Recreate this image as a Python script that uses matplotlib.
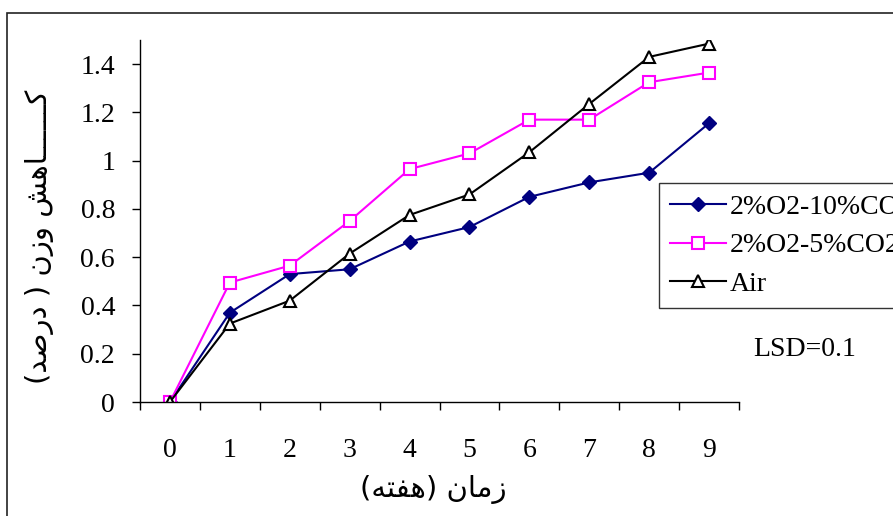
import matplotlib
matplotlib.use('Agg')
import matplotlib.pyplot as plt
from matplotlib.patches import Rectangle

weeks = [0, 1, 2, 3, 4, 5, 6, 7, 8, 9]
o2_10co2 = [0.0, 0.37, 0.53, 0.55, 0.665, 0.725, 0.85, 0.91, 0.95, 1.155]
o2_5co2 = [0.0, 0.495, 0.565, 0.75, 0.965, 1.03, 1.17, 1.17, 1.325, 1.365]
air = [0.0, 0.325, 0.42, 0.615, 0.775, 0.86, 1.035, 1.235, 1.43, 1.485]
series_names = ['2%O2-10%CO2', '2%O2-5%CO2', 'Air']
y_ticks = [0, 0.2, 0.4, 0.6, 0.8, 1.0, 1.2, 1.4]
y_ticklabels = ['0', '0.2', '0.4', '0.6', '0.8', '1', '1.2', '1.4']
x_label = 'زمان (هفته)'
y_label = 'کــــــاهش وزن ( درصد)'
lsd_text = 'LSD=0.1'

# contextual forms: isolated, final, initial, medial
FORMS = {
    'ک': ('\uFB8E', '\uFB8F', '\uFB90', '\uFB91'),
    'ه': ('\uFEE9', '\uFEEA', '\uFEEB', '\uFEEC'),
    'ش': ('\uFEB5', '\uFEB6', '\uFEB7', '\uFEB8'),
    'ن': ('\uFEE5', '\uFEE6', '\uFEE7', '\uFEE8'),
    'ص': ('\uFEB9', '\uFEBA', '\uFEBB', '\uFEBC'),
    'م': ('\uFEE1', '\uFEE2', '\uFEE3', '\uFEE4'),
    'ف': ('\uFED1', '\uFED2', '\uFED3', '\uFED4'),
    'ت': ('\uFE95', '\uFE96', '\uFE97', '\uFE98'),
    'ا': ('\uFE8D', '\uFE8E'),
    'و': ('\uFEED', '\uFEEE'),
    'ز': ('\uFEAF', '\uFEB0'),
    'د': ('\uFEA9', '\uFEAA'),
    'ر': ('\uFEAD', '\uFEAE'),
}
TATWEEL = '\u0640'


def dual(c):
    return c == TATWEEL or (c in FORMS and len(FORMS[c]) == 4)


def joins(c):
    return c == TATWEEL or c in FORMS


def shape(text):
    out = []
    for i, c in enumerate(text):
        if c not in FORMS:
            out.append(c)
            continue
        prev = text[i - 1] if i > 0 else ''
        nxt = text[i + 1] if i + 1 < len(text) else ''
        jp = dual(prev)
        jn = dual(c) and joins(nxt)
        f = FORMS[c]
        if jp and jn:
            out.append(f[3])
        elif jn:
            out.append(f[2])
        elif jp:
            out.append(f[1])
        else:
            out.append(f[0])
    mirror = {'(': ')', ')': '('}
    return ''.join(mirror.get(c, c) for c in reversed(out))


plt.rcParams['font.family'] = ['Liberation Serif', 'DejaVu Sans']

fig = plt.figure(figsize=(8.93, 5.16), dpi=100)
ax = fig.add_axes([140 / 893, 1 - 402 / 516, 599 / 893, 362 / 516])

ax.plot(weeks, o2_10co2, color='#000080', lw=1.5, marker='D', ms=7,
        mfc='#000080', mec='#000080', label=series_names[0])
ax.plot(weeks, o2_5co2, color='#FF00FF', lw=1.5, marker='s', ms=8,
        mfc='white', mec='#FF00FF', mew=1.5, label=series_names[1])
ax.plot(weeks, air, color='black', lw=1.5, marker='^', ms=9,
        mfc='white', mec='black', mew=1.5, label=series_names[2])

ax.set_xlim(-0.5, 9.5)
ax.set_ylim(0, 1.5)
ax.set_yticks(y_ticks)
ax.set_yticklabels(y_ticklabels, fontsize=20)
ax.set_xticks(weeks)
ax.set_xticklabels([str(w) for w in weeks], fontsize=20)
ax.set_xticks([w - 0.5 for w in weeks] + [9.5], minor=True)
ax.tick_params(axis='x', which='major', length=0, pad=26)
ax.tick_params(axis='x', which='minor', length=6, width=1, direction='out')
ax.tick_params(axis='y', length=6, width=1, direction='out', pad=12)
for s in ['top', 'right']:
    ax.spines[s].set_visible(False)
for s in ['left', 'bottom']:
    ax.spines[s].set_linewidth(1)

fig.text(40 / 893, 1 - 237 / 516, shape(y_label), rotation=90,
         ha='center', va='center', fontsize=21, family='DejaVu Sans')
fig.text(433 / 893, 1 - 490 / 516, shape(x_label),
         ha='center', va='center', fontsize=21, family='DejaVu Sans')
fig.text(805 / 893, 1 - 350 / 516, lsd_text, ha='center', va='center', fontsize=20)

leg = fig.legend(loc='upper left', bbox_to_anchor=(659 / 893, 1 - 183 / 516),
                 fontsize=20, frameon=True, fancybox=False, borderpad=0.4,
                 handlelength=2.0, handletextpad=0.15, labelspacing=0.48,
                 borderaxespad=0)
leg.get_frame().set_edgecolor('black')
leg.get_frame().set_linewidth(1)

fig.patches.append(Rectangle((7 / 893, -0.2), 2, 1.2 - 13 / 516, transform=fig.transFigure,
                             fill=False, edgecolor='#222222', lw=1.2))

fig.savefig('out.png', dpi=100)
